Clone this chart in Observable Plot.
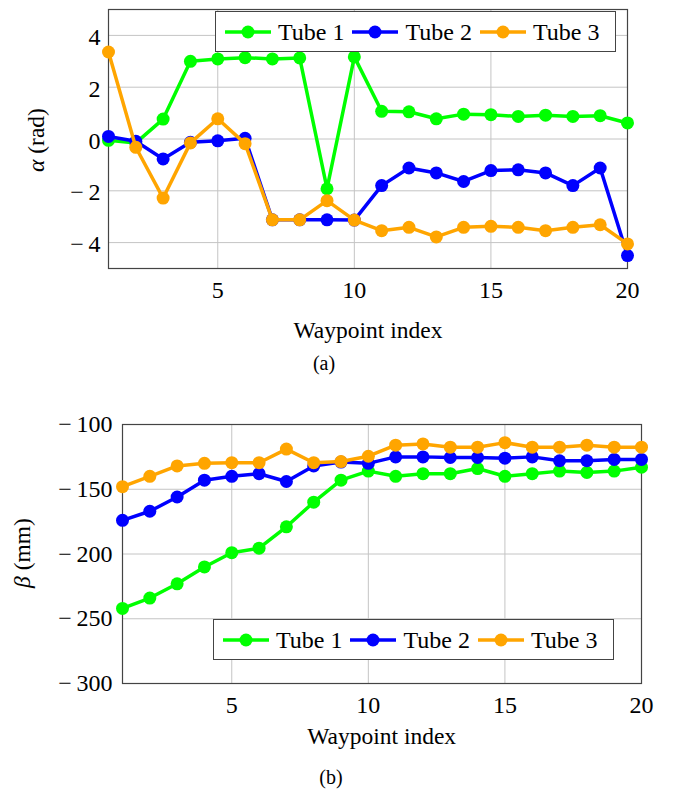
<!DOCTYPE html>
<html><head><meta charset="utf-8">
<script src="https://cdn.jsdelivr.net/npm/d3@7"></script>
<script src="https://cdn.jsdelivr.net/npm/@observablehq/plot@0.6"></script>
<style>
body{margin:0;background:#fff;}
#fig{position:relative;width:677px;height:790px;font-family:"Liberation Serif","Times New Roman",serif;color:#000;background:#fff;overflow:hidden;}
.abs{position:absolute;white-space:nowrap;line-height:1;transform:translate(-50%,-50%);font-family:"Liberation Serif","Times New Roman",serif;}
.legend{position:absolute;box-sizing:border-box;border:1px solid #444;background:#fff;display:flex;align-items:center;font-size:24px;height:41px;width:401px;padding-left:9px;line-height:1;font-family:"Liberation Serif","Times New Roman",serif;}
.legend .item{display:flex;align-items:center;margin-right:8px;white-space:nowrap;}
.legend svg{margin-right:7px;}
</style></head>
<body><div id="fig"></div>
<script>
const waypoints = [1,2,3,4,5,6,7,8,9,10,11,12,13,14,15,16,17,18,19,20];
const tubes = ["Tube 1","Tube 2","Tube 3"];
const alphaTube1 = [-0.05,-0.15,0.77,3.0,3.09,3.14,3.09,3.13,-1.92,3.17,1.07,1.05,0.78,0.96,0.94,0.87,0.92,0.87,0.9,0.62];
const alphaTube2 = [0.1,-0.09,-0.77,-0.13,-0.07,0.03,-3.12,-3.12,-3.12,-3.13,-1.8,-1.12,-1.31,-1.64,-1.22,-1.19,-1.31,-1.8,-1.12,-4.5];
const alphaTube3 = [3.36,-0.32,-2.28,-0.15,0.78,-0.18,-3.12,-3.12,-2.38,-3.13,-3.54,-3.41,-3.78,-3.41,-3.37,-3.41,-3.54,-3.41,-3.31,-4.05];
const betaTube1 = [-242,-234,-223,-210,-199,-195.5,-179,-160,-143,-136,-140,-138,-138,-134,-140,-138,-136,-137,-136,-133];
const betaTube2 = [-174,-167,-156,-143,-140,-138,-144,-132,-129,-130,-125,-125,-125.5,-125.5,-126,-125,-128,-128,-127,-127];
const betaTube3 = [-148,-140,-132,-130,-129.5,-129.5,-119,-129.5,-128.6,-124.5,-116,-115,-117.5,-117.5,-114,-117.5,-117.5,-116,-117.5,-117.5];
const xTicks = [5,10,15,20];
const alphaTicks = [-4,-2,0,2,4];
const betaTicks = [-300,-250,-200,-150,-100];
const alphaDomain = [-5,5];
const betaDomain = [-300,-100];
const xDomain = [1,20];

const colors = {"Tube 1":"#00ff00","Tube 2":"#0000ff","Tube 3":"#ffa500"};
const fmt = d => d < 0 ? "\u2212\u2009" + Math.abs(d) : String(d);
const serif = '"Liberation Serif","Times New Roman",serif';

function rows(list){
  const out = [];
  list.forEach((vals, k) => waypoints.forEach((w, i) => out.push({waypoint: w, tube: tubes[k], value: vals[i]})));
  return out;
}
const alphaData = rows([alphaTube1, alphaTube2, alphaTube3]);
const betaData = rows([betaTube1, betaTube2, betaTube3]);

function seriesMarks(data){
  const marks = [];
  for (const t of tubes){
    const d = data.filter(r => r.tube === t);
    marks.push(Plot.line(d, {x: "waypoint", y: "value", stroke: colors[t], strokeWidth: 3.5}));
    marks.push(Plot.dot(d, {x: "waypoint", y: "value", fill: colors[t], r: 6.5}));
  }
  return marks;
}

function makePlot(data, yDomain, yTicks, opts){
  return Plot.plot({
    width: 677, height: opts.height,
    marginLeft: opts.ml, marginRight: opts.mr, marginTop: opts.mt, marginBottom: opts.mb,
    style: `font-family: ${serif}; font-size: 24px; color: #000; background: transparent; overflow: visible; position: absolute; left: 0px; top: ${opts.top}px;`,
    x: {domain: xDomain},
    y: {domain: yDomain},
    marks: [
      Plot.gridX(xTicks, {stroke: "#c4c4c4", strokeOpacity: 1, strokeWidth: 1}),
      Plot.gridY(yTicks, {stroke: "#c4c4c4", strokeOpacity: 1, strokeWidth: 1}),
      Plot.frame({stroke: "#444", strokeWidth: 1.2}),
      Plot.axisX(xTicks, {tickSize: 0, tickPadding: 12, tickFormat: fmt, label: null, fontSize: 24, fontFamily: serif}),
      Plot.axisY(yTicks, {tickSize: 0, tickPadding: opts.yPad, tickFormat: fmt, label: null, dy: opts.ydy, fontSize: 24, fontFamily: serif}),
      ...seriesMarks(data)
    ]
  });
}

const fig = document.getElementById("fig");

const pA = makePlot(alphaData, alphaDomain, alphaTicks, {top: 0, height: 345, ml: 108, mr: 50, mt: 9, mb: 77, yPad: 8, ydy: 2});
pA.style.position = "absolute"; pA.style.top = "0px"; pA.style.left = "0px";
fig.appendChild(pA);

const pB = makePlot(betaData, betaDomain, betaTicks, {top: 400, height: 360, ml: 122, mr: 36, mt: 24, mb: 77, yPad: 10, ydy: 0});
pB.style.position = "absolute"; pB.style.top = "400px"; pB.style.left = "0px";
fig.appendChild(pB);

function addText(html, left, top, size, rotate){
  const d = document.createElement("div");
  d.className = "abs";
  d.innerHTML = html;
  d.style.left = left + "px";
  d.style.top = top + "px";
  d.style.fontSize = size + "px";
  if (rotate) d.style.transform = "translate(-50%,-50%) rotate(-90deg)";
  fig.appendChild(d);
}
addText("Waypoint index", 368, 330.5, 23.5);
addText("Waypoint index", 381.7, 736.5, 23.5);
addText("(a)", 324, 363, 20);
addText("(b)", 331, 776.5, 20);
addText("<i>α</i> (rad)", 36.7, 140, 23.5, true);
addText("<i>β</i> (mm)", 22.5, 553, 23.5, true);

function addLegend(left, top){
  const box = document.createElement("div");
  box.className = "legend";
  box.style.left = left + "px";
  box.style.top = top + "px";
  for (const t of tubes){
    const item = document.createElement("div");
    item.className = "item";
    const c = colors[t];
    item.innerHTML = `<svg width="46" height="16"><line x1="0" x2="46" y1="8" y2="8" stroke="${c}" stroke-width="3.5"/><circle cx="23" cy="8" r="6.5" fill="${c}"/></svg><span>${t}</span>`;
    box.appendChild(item);
  }
  fig.appendChild(box);
}
addLegend(215, 11);
addLegend(213, 619);
</script>
</body></html>
